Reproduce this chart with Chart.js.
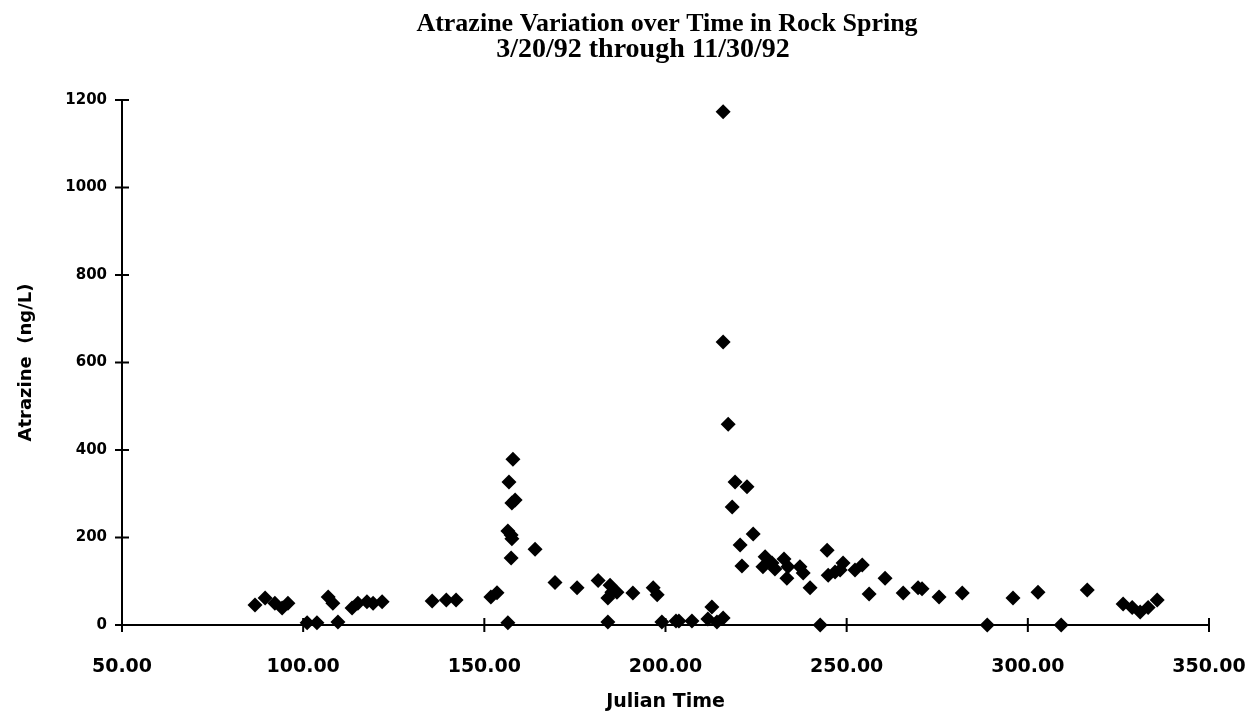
<!DOCTYPE html>
<html>
<head>
<meta charset="utf-8">
<title>Atrazine Variation over Time in Rock Spring</title>
<script src="https://cdn.jsdelivr.net/npm/chart.js@4.4.1/dist/chart.umd.min.js"></script>
<style>
  html, body { margin: 0; padding: 0; background: #fff; }
  #wrap { width: 1260px; height: 719px; }
</style>
</head>
<body>
<div id="wrap"><canvas id="atrazineChart" width="1260" height="719"></canvas></div>
<script>
"use strict";

// Titles
var titleLines = ['Atrazine Variation over Time in Rock Spring', '3/20/92 through 11/30/92'];

// Julian day of each sample
var julianDays = [
    86.7, 89.5, 92.2, 94.2, 95.8,
    101.1, 103.8, 106.9, 108.2, 109.6, 113.5, 115.1, 117.6, 119.3, 121.8,
    135.6, 139.5, 142.2, 151.8, 153.5,
    156.5, 157.9, 156.8, 157.6, 158.5, 156.5, 157.4, 157.6, 157.4, 164.0,
    169.5, 175.6, 181.4, 184.7, 185.2, 184.1, 186.6, 184.1, 191.0, 196.6, 197.7,
    199.0, 202.9, 203.7, 207.3, 211.7, 212.8, 214.2,
    215.9, 215.9, 215.9, 217.3, 219.2, 222.5, 218.4, 224.2, 220.6, 221.1,
    227.5, 226.9, 229.4, 230.2, 232.7, 233.8, 233.5, 237.1, 238.0, 239.9,
    242.7, 244.6, 244.9, 246.8, 249.0, 248.2, 252.3, 254.3, 256.2, 260.6,
    265.6, 269.7, 270.8, 275.5, 281.9, 288.8, 295.9, 302.8, 309.2, 316.4,
    326.3, 328.8, 331.0, 333.2, 335.7
];

// Atrazine concentration in ng/L, same order
var atrazine = [
    46, 62, 50, 39, 50,
    5, 5, 64, 50, 7, 39, 50, 53, 50, 53,
    55, 57, 57, 64, 74,
    5, 379, 327, 279, 286, 215, 206, 197, 153, 173,
    97, 85, 102, 91, 75, 62, 75, 7, 73, 85, 69,
    7, 9, 9, 9, 14, 41, 7,
    16, 1173, 647, 459, 327, 316, 270, 208, 183, 135,
    156, 133, 142, 128, 151, 133, 107, 133, 119, 85,
    0, 171, 114, 121, 142, 126, 126, 137, 71, 107,
    73, 85, 83, 64, 73, 0, 62, 75, 0, 80,
    48, 40, 30, 40, 57
];

var xTicks = [50, 100, 150, 200, 250, 300, 350];
var yTicks = [0, 200, 400, 600, 800, 1000, 1200];

var AtrazineChart = function () {

    // two centred title lines, placed like the scan
    var titlePlugin = {
        id: 'scanTitle',
        afterDraw: function (chart) {
            var ctx = chart.ctx;
            ctx.save();
            ctx.fillStyle = '#000';
            ctx.textAlign = 'center';
            ctx.textBaseline = 'alphabetic';
            ctx.font = 'bold 26px "Liberation Serif", serif';
            ctx.fillText(titleLines[0], 667, 31);
            ctx.font = 'bold 28px "Liberation Serif", serif';
            ctx.fillText(titleLines[1], 643, 57);
            ctx.restore();
        }
    };

    // tick marks that cross the axis lines
    var crossTicks = {
        id: 'crossTicks',
        afterDraw: function (chart) {
            var ctx = chart.ctx;
            var xs = chart.scales.x, ys = chart.scales.y;
            var x0 = xs.getPixelForValue(xs.min);
            var y0 = ys.getPixelForValue(0);
            ctx.save();
            ctx.strokeStyle = '#000';
            ctx.lineWidth = 2;
            ctx.beginPath();
            xTicks.forEach(function (v) {
                var px = xs.getPixelForValue(v);
                ctx.moveTo(px, y0 - 7);
                ctx.lineTo(px, y0 + 7);
            });
            yTicks.forEach(function (v) {
                var py = ys.getPixelForValue(v);
                ctx.moveTo(x0 - 7, py);
                ctx.lineTo(x0 + 7, py);
            });
            ctx.stroke();
            ctx.restore();
        }
    };

    var initChart = function () {
        var points = julianDays.map(function (d, i) {
            return { x: d, y: atrazine[i] };
        });

        new Chart(document.getElementById('atrazineChart'), {
            type: 'scatter',
            data: {
                datasets: [{
                    label: 'Atrazine',
                    data: points,
                    pointStyle: 'rectRot',
                    pointRadius: 7.5,
                    pointHoverRadius: 7.5,
                    backgroundColor: '#000',
                    borderColor: '#000',
                    borderWidth: 0,
                    clip: false
                }]
            },
            options: {
                responsive: false,
                animation: false,
                devicePixelRatio: 1,
                layout: {
                    padding: { top: 100, right: 51, bottom: 0, left: 0 }
                },
                scales: {
                    x: {
                        type: 'linear',
                        min: 50,
                        max: 350,
                        afterBuildTicks: function (scale) {
                            scale.ticks = xTicks.map(function (v) { return { value: v }; });
                        },
                        afterFit: function (scale) {
                            scale.height = 94;
                            scale.paddingLeft = 0;
                            scale.paddingRight = 0;
                        },
                        grid: { display: true, drawOnChartArea: false, drawTicks: false },
                        border: { display: true, color: '#000', width: 2 },
                        ticks: {
                            color: '#000',
                            padding: 31,
                            maxRotation: 0,
                            font: { family: '"DejaVu Sans"', size: 19, weight: 'bold' },
                            callback: function (v) { return Number(v).toFixed(2); }
                        },
                        title: {
                            display: true,
                            text: 'Julian Time',
                            color: '#000',
                            padding: { top: 0, bottom: 6 },
                            font: { family: '"DejaVu Sans"', size: 19, weight: 'bold' }
                        }
                    },
                    y: {
                        type: 'linear',
                        min: 0,
                        max: 1200,
                        afterBuildTicks: function (scale) {
                            scale.ticks = yTicks.map(function (v) { return { value: v }; });
                        },
                        afterFit: function (scale) {
                            scale.width = 122;
                        },
                        grid: { display: true, drawOnChartArea: false, drawTicks: false },
                        border: { display: true, color: '#000', width: 2 },
                        ticks: {
                            color: '#000',
                            padding: 15,
                            font: { family: '"DejaVu Sans"', size: 15, weight: 'bold' },
                            callback: function (v) { return String(v); }
                        },
                        title: {
                            display: true,
                            text: 'Atrazine  (ng/L)',
                            color: '#000',
                            padding: { top: 16, bottom: 0 },
                            font: { family: '"DejaVu Sans"', size: 18, weight: 'bold' }
                        }
                    }
                },
                plugins: {
                    legend: { display: false },
                    title: { display: false },
                    tooltip: { enabled: false }
                }
            },
            plugins: [titlePlugin, crossTicks]
        });
    };

    return {
        init: function () {
            initChart();
        }
    };

}();

AtrazineChart.init();
</script>
</body>
</html>
